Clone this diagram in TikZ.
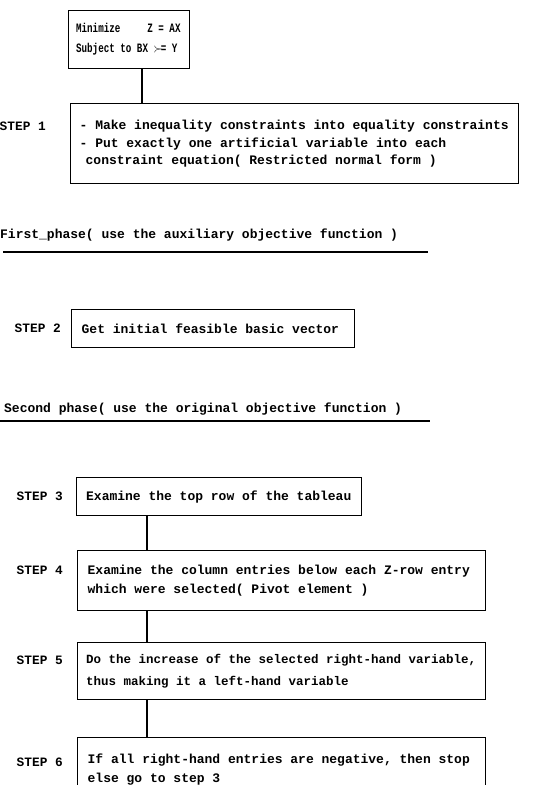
\documentclass[tikz,border=0pt]{standalone}
\usepackage{fontspec}
\newfontfamily\stepfont[WordSpace={1,0,0},UprightFont={* Bold}]{Liberation Mono}
\newfontfamily\narrowfont[WordSpace={1,0,0},UprightFont={* Bold},FakeStretch=0.72]{Liberation Mono}
\tikzset{
	stepbox/.style={draw,line width=1.3pt,anchor=north west,align=left,inner xsep=10pt,inner ysep=0pt,font=\stepfont\fontsize{13pt}{19pt}\selectfont,
		execute at begin node={\spaceskip=\fontdimen2\font\xspaceskip=\fontdimen2\font}},
	steplabel/.style={anchor=east,inner sep=0pt,font=\stepfont\fontsize{12.8pt}{19pt}\selectfont},
	phase/.style={anchor=west,inner sep=0pt,font=\stepfont\fontsize{13pt}{19pt}\selectfont},
	link/.style={line width=1.3pt},
	phaseline/.style={line width=1.8pt}
}
\begin{document}
		\begin{tikzpicture}[x=1pt,y=-1pt]
			\useasboundingbox (0,0) rectangle (551,785);
			\clip (0,0) rectangle (551,785);
			\coordinate (c1) at (142,0);
			\coordinate (c2) at (147,0);

			\node[stepbox,text width=106pt,inner xsep=7.5pt,minimum width=121pt,minimum height=58pt,font=\narrowfont\fontsize{12.8pt}{20pt}\selectfont] (goal) at (68,10) {Minimize\hspace{27pt}Z = AX\\Subject to BX $\succ$\kern-2pt= Y};

			\node[stepbox,text width=430pt,inner xsep=9pt,minimum width=448pt,minimum height=80pt,font=\stepfont\fontsize{13pt}{17.5pt}\selectfont] (s1) at (70,103) {- Make inequality constraints into equality constraints\\- Put exactly one artificial variable into each\\\hspace*{6pt}constraint equation( Restricted normal form )};
			\node[steplabel] (l1) at (46,126) {STEP 1};

			\node[phase] (h1) at (0,235) {First\_phase( use the auxiliary objective function )};
			\draw[phaseline] (3,252) -- (428,252);

			\node[stepbox,text width=263pt,minimum width=283pt,minimum height=38pt] (s2) at (71,309) {Get initial feasible basic vector};
			\node[steplabel] (l2) at (61,328) {STEP 2};

			\node[phase] (h2) at (4,409) {Second phase( use the original objective function )};
			\draw[phaseline] (0,421) -- (430,421);

			\node[stepbox,text width=266pt,inner xsep=9.5pt,minimum width=285pt,minimum height=38pt] (s3) at (76,477) {Examine the top row of the tableau};
			\node[steplabel] (l3) at (63,496) {STEP 3};

			\node[stepbox,text width=388pt,minimum width=408pt,minimum height=60pt] (s4) at (77,550) {Examine the column entries below each Z-row entry\\which were selected( Pivot element )};
			\node[steplabel] (l4) at (63,570) {STEP 4};

			\node[stepbox,text width=391pt,inner xsep=8.5pt,minimum width=408pt,minimum height=57pt,font=\stepfont\fontsize{12.5pt}{22pt}\selectfont] (s5) at (77,642) {Do the increase of the selected right-hand variable,\\thus making it a left-hand variable};
			\node[steplabel] (l5) at (63,660) {STEP 5};

			\node[stepbox,text width=388pt,minimum width=408pt,minimum height=64pt] (s6) at (77,737) {If all right-hand entries are negative, then stop\\else go to step 3};
			\node[steplabel] (l6) at (63,762) {STEP 6};

			\draw[link] (goal.south -| c1) -- (s1.north -| c1);
			\draw[link] (s3.south -| c2) -- (s4.north -| c2);
			\draw[link] (s4.south -| c2) -- (s5.north -| c2);
			\draw[link] (s5.south -| c2) -- (s6.north -| c2);
		\end{tikzpicture}
\end{document}
